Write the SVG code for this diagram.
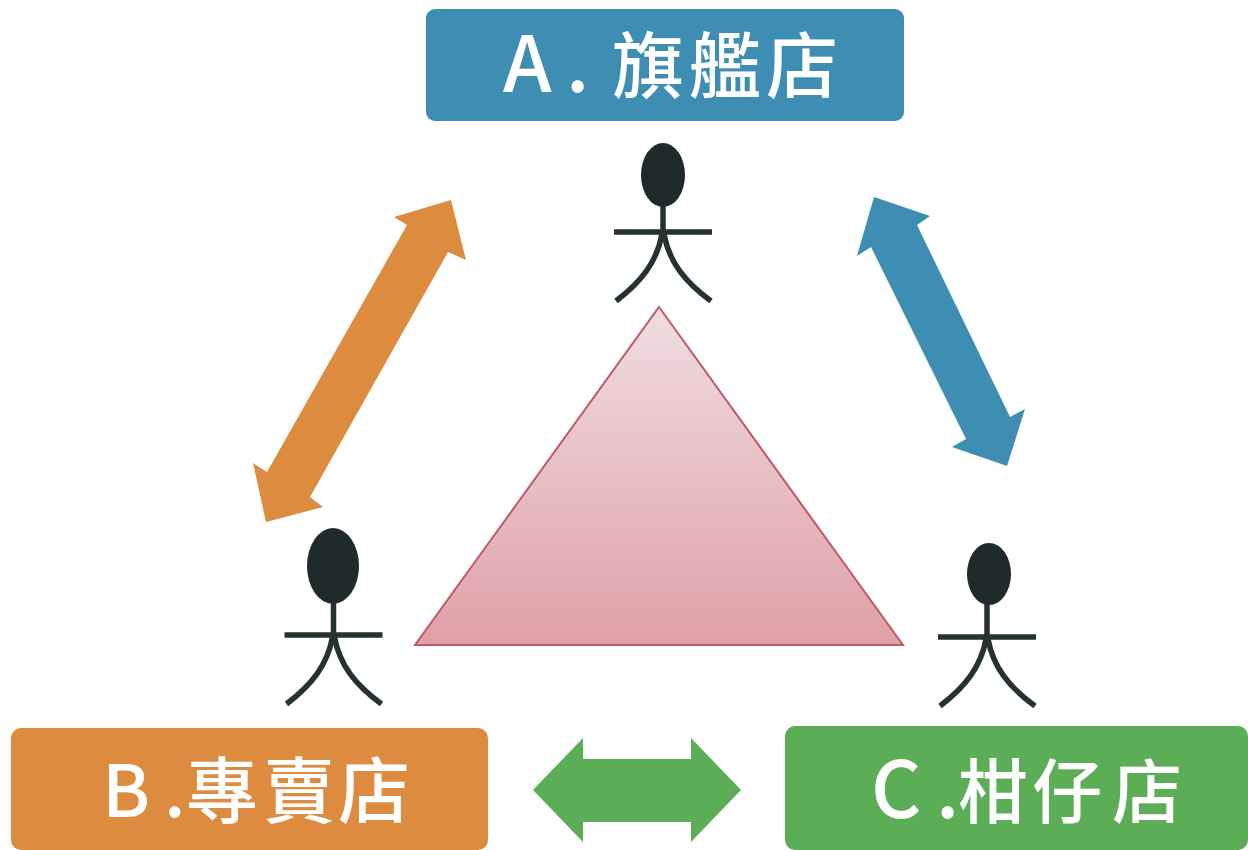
<svg xmlns="http://www.w3.org/2000/svg" width="1248" height="850" viewBox="0 0 1248 850">
<style>
.lbl{font-family:"Noto Sans CJK TC","Noto Sans",sans-serif;fill:#fff;font-weight:500}
.st{fill:none;stroke:#263230;stroke-width:5.500}
.hd{fill:#1f2b2a}
</style>
<defs>
<linearGradient id="tri" x1="0" y1="0" x2="0" y2="1"><stop offset="0" stop-color="#f0dde3"/><stop offset="1" stop-color="#dfa0a6"/></linearGradient>
<g id="man">
<path class="st" d="M0 -40V3M-49 0H49M-1 2C-6 30 -22 50 -47 69M1 2C6 30 22 50 48 69"/>
</g>
</defs>
<rect width="1248" height="850" fill="#fff"/>
<g id="node-a"><rect x="426" y="9" width="478" height="112" rx="9" fill="#3e8db2"/><text class="lbl" font-size="72" y="92"><tspan font-size="78" x="503 566">A.</tspan> <tspan x="612 689 766">旗艦店</tspan></text></g>
<g id="node-b"><rect x="11" y="728" width="477" height="122" rx="10" fill="#dc8b3f"/><text class="lbl" font-size="72" y="817" x="102 164 186 263 338">B.專賣店</text></g>
<g id="node-c"><rect x="785" y="726" width="463" height="124" rx="10" fill="#5cae56"/><text class="lbl" font-size="70" y="818"><tspan font-size="78" x="871 936">C.</tspan><tspan x="958 1032 1112">柑仔店</tspan></text></g>
<g id="triangle"><path d="M659 307L903 645H415Z" fill="url(#tri)" stroke="#bf5a62" stroke-width="2"/></g>
<g id="person-a"><use href="#man" x="663" y="232"/><ellipse class="hd" cx="663" cy="175" rx="22" ry="32"/></g>
<g id="person-b"><use href="#man" x="333.500" y="635"/><ellipse class="hd" cx="333" cy="566" rx="26" ry="38"/></g>
<g id="person-c"><use href="#man" x="987" y="637"/><ellipse class="hd" cx="989" cy="574" rx="22" ry="31"/></g>
<g id="connectors">
<path d="M451 200L466 260L448 252L310 497L323 507L266 522L253 463L267 472L407 225L394 217Z" fill="#dc8b3f"/>
<path d="M874 197L930 216L917 225L1010 417L1025 409L1007 466L952 447L966 439L871 247L857 256Z" fill="#3e8db2"/>
<path d="M533 790L583 738V759H691V738L741 790L691 842V822H583V842Z" fill="#5cae56"/>
</g>
</svg>
